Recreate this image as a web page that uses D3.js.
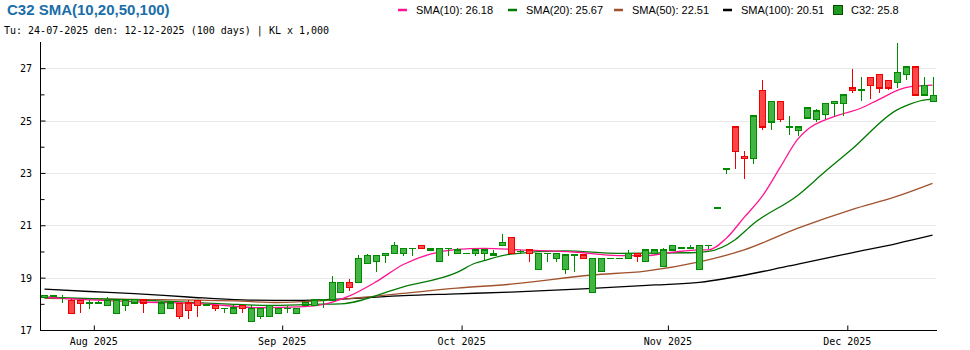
<!DOCTYPE html>
<html><head><meta charset="utf-8">
<script src="https://cdn.jsdelivr.net/npm/d3@7/dist/d3.min.js"></script>
<style>
html,body{margin:0;padding:0;background:#fff;}
svg{display:block;}
</style></head>
<body>
<svg id="chart" width="970" height="350"></svg>
<script>
// ---- data ----
const title = "C32 SMA(10,20,50,100)";
const subtitle = "Tu: 24-07-2025 den: 12-12-2025 (100 days) | KL x 1,000";
const monthTickIdx = [6, 27, 47, 70, 90];
const monthTickLabels = ["Aug 2025", "Sep 2025", "Oct 2025", "Nov 2025", "Dec 2025"];
const yTickValues = [17, 19, 21, 23, 25, 27];
const yMinorTicks = [18, 20, 22, 24, 26];

const open = [18.25,18.28,18.25,18.13,18.13,18.03,18.03,17.94,17.64,17.94,
  18.03,18.15,18.13,17.64,17.83,18.02,18.03,18.13,17.96,17.94,
  17.83,17.64,17.94,17.33,17.52,17.51,17.64,17.83,17.64,17.95,
  17.93,18.15,18.15,18.44,18.82,18.82,19.55,19.61,19.84,19.92,
  19.92,20.12,20.22,20.05,19.61,20.12,19.92,19.92,19.92,19.92,
  19.86,20.24,20.54,20.00,20.05,19.32,19.92,19.74,19.32,19.86,
  19.86,18.44,19.24,19.74,19.74,19.74,19.92,19.62,19.92,19.43,
  20.05,20.14,20.14,19.32,20.22,21.66,23.14,24.75,23.64,23.56,
  26.16,24.94,25.74,24.75,24.62,25.10,25.05,25.24,25.66,25.66,
  26.24,26.16,26.65,26.77,26.54,26.46,26.77,27.04,25.97,25.74];
const high = [18.33,18.33,18.33,18.20,18.13,18.15,18.10,18.25,18.13,18.17,
  18.17,18.15,18.15,18.10,18.03,18.02,18.13,18.13,17.96,17.94,
  17.83,17.94,17.94,17.94,17.83,17.93,17.83,17.93,17.83,18.04,
  18.15,18.20,19.06,18.82,18.95,19.87,19.92,19.84,19.92,20.35,
  20.12,20.12,20.22,20.12,20.12,20.12,20.12,19.92,20.05,20.05,
  20.05,20.67,20.54,20.05,20.05,19.92,19.92,19.92,19.92,19.86,
  19.86,19.74,19.74,19.74,19.74,20.05,19.92,20.05,20.05,20.14,
  20.24,20.14,20.24,20.22,20.22,21.66,23.14,24.75,23.84,25.17,
  26.55,25.74,25.74,25.17,24.75,25.48,25.44,25.66,25.74,25.97,
  26.97,26.67,26.65,26.77,26.54,27.96,27.04,27.04,26.67,26.67];
const low = [18.25,18.28,18.02,17.64,17.64,17.81,18.03,17.94,17.64,17.74,
  18.03,17.64,18.13,17.64,17.83,17.43,17.43,17.51,17.96,17.74,
  17.64,17.64,17.64,17.33,17.43,17.51,17.64,17.64,17.64,17.95,
  17.93,17.83,18.15,18.44,18.50,18.82,19.55,19.23,19.55,19.92,
  19.84,19.84,20.12,20.05,19.61,19.84,19.92,19.92,19.84,19.66,
  19.86,20.24,19.92,19.92,19.61,19.32,19.61,19.61,19.13,19.23,
  19.74,18.44,19.24,19.74,19.74,19.74,19.61,19.62,19.92,19.43,
  20.05,20.14,20.14,19.32,20.10,21.66,22.95,23.14,22.76,23.33,
  24.62,24.62,24.94,24.43,24.41,25.10,24.93,25.05,25.18,25.18,
  26.04,25.74,25.84,26.04,26.16,26.24,26.54,25.97,25.97,25.74];
const close = [18.33,18.33,18.25,17.64,18.02,18.03,18.03,18.13,18.13,18.13,
  18.17,18.03,18.13,18.03,18.03,17.51,17.74,17.94,17.96,17.83,
  17.83,17.84,17.83,17.83,17.83,17.93,17.83,17.83,17.83,18.04,
  18.15,18.15,18.82,18.82,18.63,19.74,19.84,19.84,19.92,20.22,
  20.12,20.12,20.12,20.12,20.12,20.12,20.05,19.92,20.05,20.05,
  19.93,20.35,19.92,20.00,19.92,19.92,19.92,19.92,19.86,19.86,
  19.74,19.74,19.74,19.74,19.74,19.92,19.83,20.05,20.05,20.05,
  20.24,20.14,20.14,20.22,20.22,21.66,23.14,23.83,23.56,25.17,
  24.75,25.74,25.05,24.75,24.75,25.48,25.37,25.66,25.74,25.97,
  26.16,26.16,26.35,26.24,26.24,26.84,27.04,25.97,26.35,25.95];

const sma10Idx = [0,5,11,18,24,29,31,34,37,40,43,46,49,53,59,64,67,70,73,74,76,78,80,82,84,85,88,91,93,96,99];
const sma10 = [18.25,18.15,18.07,17.99,17.85,17.89,17.97,18.30,18.85,19.50,19.90,20.08,20.12,20.06,19.98,19.84,19.84,19.97,20.06,20.06,20.50,21.30,22.10,23.20,24.30,24.64,25.15,25.47,25.80,26.26,26.35];
const sma20Idx = [0,10,20,25,30,33,40,46,48,49,52,58,64,72,74,77,79,84,87,90,95,96,98,99];
const sma20 = [18.25,18.15,18.00,17.94,17.98,18.00,18.65,19.20,19.55,19.65,19.90,20.02,19.93,19.95,20.00,20.45,21.05,22.15,23.04,23.90,25.40,25.56,25.78,25.82];
const sma50Idx = [0,10,22,26,30,34,40,46,52,61,67,73,78,84,90,95,99];
const sma50 = [18.21,18.17,18.10,18.05,18.10,18.20,18.40,18.60,18.75,19.10,19.25,19.60,20.06,20.89,21.60,22.10,22.60];
const sma100Idx = [0,5,10,16,22,28,34,40,46,52,60,68,73,81,84,90,95,99];
const sma100 = [18.56,18.47,18.39,18.26,18.15,18.13,18.20,18.31,18.38,18.45,18.57,18.72,18.82,19.30,19.52,19.95,20.30,20.62];

const legendNames = ["SMA(10)", "SMA(20)", "SMA(50)", "SMA(100)", "C32"];
const legendValues = ["26.18", "25.67", "22.51", "20.51", "25.8"];
const lineColors = ["#ff1493", "#007a00", "#a0522d", "#000000"];

// ---- drawing ----
(function () {
const svg = d3.select("#chart");
const W = 970, H = 350;
const mL = 40, mR = 937, mT = 42, mB = 330;

const n = close.length;
const x = d3.scaleBand().domain(d3.range(n)).range([mL, mR]).paddingInner(0).paddingOuter(0);
const cx = i => x(i) + x.bandwidth() / 2;
const y = d3.scaleLinear().domain([17, 28]).range([mB, mT]);

svg.append("rect").attr("width", W).attr("height", H).attr("fill", "#fff");

// title + subtitle
svg.append("text").attr("x", 7).attr("y", 15)
  .attr("font-family", "Liberation Sans, Arial, sans-serif").attr("font-weight", "bold")
  .attr("font-size", 15).attr("fill", "#1a6ea8").text(title);
svg.append("text").attr("x", 4).attr("y", 34)
  .attr("font-family", "DejaVu Sans Mono, monospace").attr("font-size", 10)
  .attr("fill", "#000").text(subtitle);

// grid
svg.append("g").selectAll("line").data(yTickValues.filter(v => v > 17)).join("line")
  .attr("x1", mL).attr("x2", mR - 1)
  .attr("y1", d => Math.round(y(d)) + 0.5).attr("y2", d => Math.round(y(d)) + 0.5)
  .attr("stroke", "#e8e8e8").attr("stroke-width", 1);

// y axis (inward ticks)
const yAxis = d3.axisRight(y).tickValues(yTickValues).tickSize(5).tickFormat("");
const gy = svg.append("g").attr("transform", `translate(${mL + 0.5},0)`).call(yAxis);
gy.select(".domain").attr("d", `M0,${mT}V${mB}`).attr("stroke", "#000");
gy.selectAll(".tick line").attr("stroke", "#000");
const yMinor = d3.axisRight(y).tickValues(yMinorTicks).tickSize(4).tickFormat("");
const gy2 = svg.append("g").attr("transform", `translate(${mL + 0.5},0)`).call(yMinor);
gy2.select(".domain").remove();
gy2.selectAll(".tick line").attr("stroke", "#000");
svg.append("g").selectAll("text").data(yTickValues).join("text")
  .attr("x", 32).attr("y", d => y(d) + 4)
  .attr("text-anchor", "end")
  .attr("font-family", "DejaVu Sans Mono, monospace").attr("font-size", 10)
  .text(d => d);

// x axis (inward ticks at month starts)
const xPos = d3.scaleLinear().domain([0, n]).range([mL, mR]);
const xAxis = d3.axisTop(xPos).tickValues(monthTickIdx).tickSize(5).tickFormat("");
const gx = svg.append("g").attr("transform", `translate(0,${mB + 0.5})`).call(xAxis);
gx.select(".domain").attr("d", `M${mL},0H${mR}`).attr("stroke", "#000");
gx.selectAll(".tick line").attr("stroke", "#000");
svg.append("g").selectAll("text").data(monthTickIdx).join("text")
  .attr("x", d => x(d)).attr("y", 345)
  .attr("text-anchor", "middle")
  .attr("font-family", "DejaVu Sans Mono, monospace").attr("font-size", 10)
  .text((d, i) => monthTickLabels[i]);

// moving average lines
const lineGen = d3.line().x(d => cx(d[0])).y(d => y(d[1])).curve(d3.curveMonotoneX);
const smaSets = [[sma100Idx, sma100, 3], [sma50Idx, sma50, 2], [sma20Idx, sma20, 1], [sma10Idx, sma10, 0]];
smaSets.forEach(([idx, vals, ci]) => {
  svg.append("path").datum(idx.map((k, j) => [k, vals[j]]))
    .attr("d", lineGen).attr("fill", "none")
    .attr("stroke", lineColors[ci]).attr("stroke-width", 1.3);
});

// candles
const upFill = "#41b441", upStroke = "#008a00", dnFill = "#ff4545", dnStroke = "#ee0000";
const candles = svg.append("g").attr("shape-rendering", "crispEdges");
const idx = d3.range(n);
const isUp = i => close[i] >= open[i];
candles.selectAll("line.wick").data(idx).join("line").attr("class", "wick")
  .attr("x1", i => Math.round(cx(i)) + 0.5).attr("x2", i => Math.round(cx(i)) + 0.5)
  .attr("y1", i => y(high[i])).attr("y2", i => y(low[i]))
  .attr("stroke", i => isUp(i) ? upStroke : dnStroke).attr("stroke-width", 1.5);
candles.selectAll("rect.body").data(idx.filter(i => Math.abs(close[i] - open[i]) > 0.001)).join("rect").attr("class", "body")
  .attr("x", i => Math.round(cx(i)) - 2.5)
  .attr("width", 6)
  .attr("y", i => y(Math.max(open[i], close[i])))
  .attr("height", i => Math.max(1, Math.abs(y(open[i]) - y(close[i]))))
  .attr("fill", i => isUp(i) ? upFill : dnFill)
  .attr("stroke", i => isUp(i) ? upStroke : dnStroke).attr("stroke-width", 1.3);
candles.selectAll("line.doji").data(idx.filter(i => Math.abs(close[i] - open[i]) <= 0.001)).join("line").attr("class", "doji")
  .attr("x1", i => Math.round(cx(i)) - 3).attr("x2", i => Math.round(cx(i)) + 4)
  .attr("y1", i => y(open[i])).attr("y2", i => y(open[i]))
  .attr("stroke", upStroke).attr("stroke-width", 1.5);

// legend
const legX = [398, 508, 614, 723, 833];
const lg = svg.append("g").attr("font-family", "Liberation Sans, Arial, sans-serif").attr("font-size", 11);
legendNames.forEach((name, i) => {
  if (i < 4) {
    lg.append("line").attr("x1", legX[i]).attr("x2", legX[i] + 9).attr("y1", 10).attr("y2", 10)
      .attr("stroke", lineColors[i]).attr("stroke-width", 2.5);
  } else {
    lg.append("rect").attr("x", legX[i] + 0.5).attr("y", 5.5).attr("width", 9).attr("height", 9)
      .attr("fill", "#1f9a1f").attr("stroke", "#004d00").attr("stroke-width", 1);
  }
  lg.append("text").attr("x", legX[i] + 18).attr("y", 14).attr("fill", "#000")
    .text(name + ": " + legendValues[i]);
});
})();
</script>
</body></html>
